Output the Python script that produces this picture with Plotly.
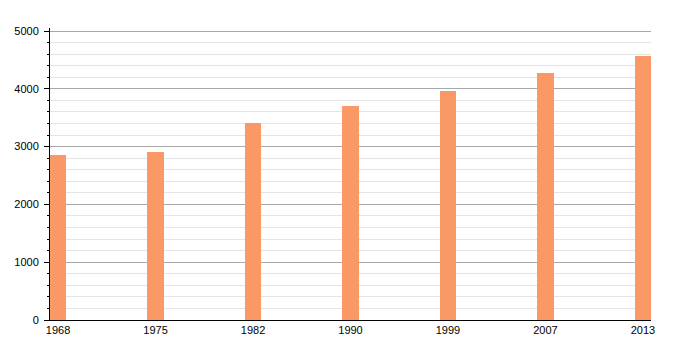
import plotly.graph_objects as go

years = ["1968", "1975", "1982", "1990", "1999", "2007", "2013"]
population = [2850, 2905, 3410, 3705, 3965, 4280, 4570]

bar_color = "#fa9966"

fig = go.Figure()
fig.add_trace(go.Bar(
    x=years, y=population,
    width=0.165,
    marker=dict(color=bar_color, line=dict(width=0)),
    hoverinfo="x+y",
))

fig.update_layout(
    width=700, height=350,
    margin=dict(l=50, r=49, t=28, b=30),
    paper_bgcolor="white", plot_bgcolor="white",
    font=dict(family="Liberation Sans, Arial, sans-serif", size=11, color="#000"),
    showlegend=False,
    bargap=0,
)
fig.update_xaxes(
    type="category",
    range=[-0.0825, 6.0825],
    showgrid=False,
    showline=True, linecolor="#000", linewidth=1,
    ticks="", tickfont=dict(size=11),
    zeroline=False,
)
fig.update_yaxes(
    range=[0, 5052],
    dtick=1000, tick0=0,
    showgrid=True, gridcolor="#a8a8a8", gridwidth=1,
    showline=True, linecolor="#000", linewidth=1,
    ticks="outside", ticklen=5, tickcolor="#000",
    ticklabelstandoff=3,
    minor=dict(dtick=200, showgrid=True, gridcolor="#e4e4e4", gridwidth=1,
               ticks="outside", ticklen=2, tickcolor="#000"),
    zeroline=False,
    tickfont=dict(size=11),
)

fig.write_html("out.html")
